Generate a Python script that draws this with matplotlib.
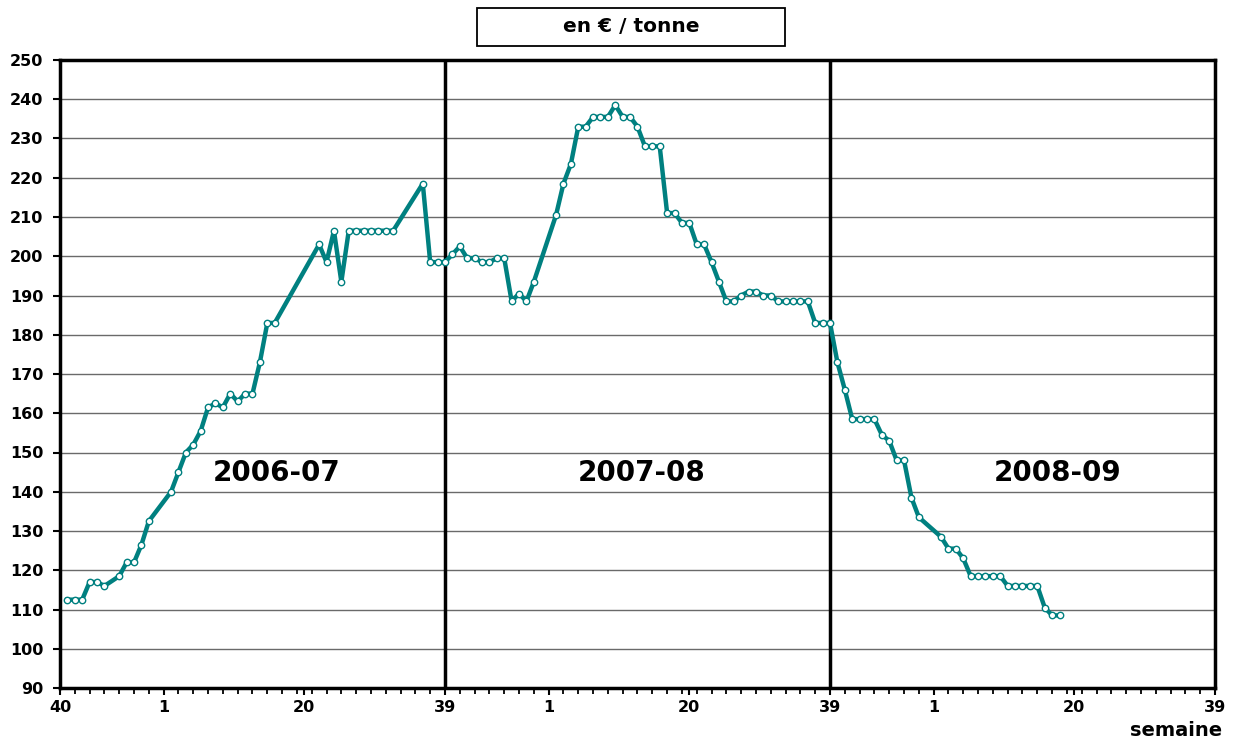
import numpy as np
import matplotlib.pyplot as plt
from matplotlib.patches import Rectangle

# week index since week 40 of 2006 (52 per marketing year)
weeks_0607 = [1, 2, 3, 4, 5, 6, 8, 9, 10, 11, 12, 15, 16, 17, 18, 19, 20, 21,
              22, 23, 24, 25, 26, 27, 28, 29, 35, 36, 37, 38, 39, 40, 41, 42,
              43, 44, 45, 49, 50, 51, 52]
price_0607 = [112.5, 112.5, 112.5, 117, 117, 116, 118.5, 122, 122, 126.5, 132.5,
              140, 145, 150, 152, 155.5, 161.5, 162.5, 161.5, 165, 163, 165, 165,
              173, 183, 183, 203, 198.5, 206.5, 193.5, 206.5, 206.5, 206.5, 206.5,
              206.5, 206.5, 206.5, 218.5, 198.5, 198.5, 198.5]

weeks_0708 = [53, 54, 55, 56, 57, 58, 59, 60, 61, 62, 63, 64, 67, 68, 69, 70, 71,
              72, 73, 74, 75, 76, 77, 78, 79, 80, 81, 82, 83, 84, 85, 86, 87, 88,
              89, 90, 91, 92, 93, 94, 95, 96, 97, 98, 99, 100, 101, 102, 103, 104]
price_0708 = [200.5, 202.5, 199.5, 199.5, 198.5, 198.5, 199.5, 199.5, 188.5, 190.5,
              188.5, 193.5, 210.5, 218.5, 223.5, 233, 233, 235.5, 235.5, 235.5,
              238.5, 235.5, 235.5, 233, 228, 228, 228, 211, 211, 208.5, 208.5, 203,
              203, 198.5, 193.5, 188.5, 188.5, 190, 191, 191, 190, 190, 188.5,
              188.5, 188.5, 188.5, 188.5, 183, 183, 183]

weeks_0809 = [105, 106, 107, 108, 109, 110, 111, 112, 113, 114, 115, 116, 119,
              120, 121, 122, 123, 124, 125, 126, 127, 128, 129, 130, 131, 132,
              133, 134, 135]
price_0809 = [173, 166, 158.5, 158.5, 158.5, 158.5, 154.5, 153, 148, 148, 138.5,
              133.5, 128.5, 125.5, 125.5, 123, 118.5, 118.5, 118.5, 118.5, 118.5,
              116, 116, 116, 116, 116, 110.5, 108.5, 108.5]

tick_pos = [0, 14, 33, 52, 66, 85, 104, 118, 137, 156]
tick_lab = ['40', '1', '20', '39', '1', '20', '39', '1', '20', '39']
seasons = ['2006-07', '2007-08', '2008-09']
season_x = [29.3, 78.6, 134.7]
season_bounds = [52, 104]

teal = '#008080'

weeks = weeks_0607 + weeks_0708 + weeks_0809
price = price_0607 + price_0708 + price_0809

fig = plt.figure(figsize=(12.4, 7.4), dpi=100)
ax = fig.add_axes([60/1240, 52/740, 1155/1240, 628/740])

for y in range(100, 250, 10):
    ax.axhline(y, color='#6a6a6a', lw=1.0, zorder=1)
for b in season_bounds:
    ax.axvline(b, color='black', lw=2.5, zorder=2)

ax.plot(weeks, price, color=teal, lw=3.2, marker='o', markersize=4.6,
        markerfacecolor='white', markeredgecolor=teal, markeredgewidth=1.0,
        solid_joinstyle='round', zorder=3)

for name, sx in zip(seasons, season_x):
    ax.text(sx, 144.8, name, fontsize=20, fontweight='bold', ha='center',
            va='center', zorder=4)

ax.set_xlim(0, 156)
ax.set_ylim(90, 250)
ax.set_yticks(range(90, 251, 10))
ax.set_xticks(tick_pos)
ax.set_xticklabels(tick_lab)
ax.set_xticks(np.arange(0, 157, 2), minor=True)
ax.tick_params(axis='both', direction='out', length=5, width=1.5,
               labelsize=11.5, colors='black')
ax.tick_params(axis='x', which='minor', direction='out', length=4, width=1.3)
ax.tick_params(axis='x', pad=4)
ax.tick_params(axis='y', pad=7)
for lab in ax.get_xticklabels() + ax.get_yticklabels():
    lab.set_fontweight('bold')
for sp in ax.spines.values():
    sp.set_linewidth(2.5)

fig.patches.append(Rectangle((477/1240, 1 - 46/740), 308/1240, 38/740,
                             transform=fig.transFigure, fill=False,
                             edgecolor='black', lw=1.3))
fig.text(631/1240, 1 - 27/740, 'en € / tonne', fontsize=14.5,
         fontweight='bold', ha='center', va='center')
fig.text(1222/1240, 1 - 731/740, 'semaine', fontsize=14, fontweight='bold',
         ha='right', va='center')

fig.savefig('out.png', dpi=100)
